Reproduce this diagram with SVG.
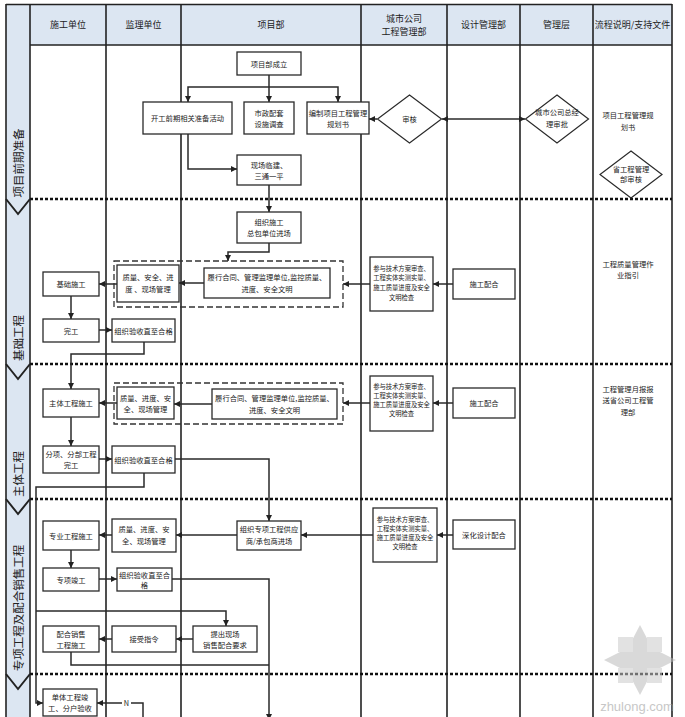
<svg xmlns="http://www.w3.org/2000/svg" width="685" height="717" viewBox="0 0 685 717">
<defs>
<marker id="ah" viewBox="0 0 6 6" refX="6" refY="3" markerWidth="6" markerHeight="6" markerUnits="userSpaceOnUse" orient="auto">
<path d="M0,0 L6,3 L0,6 z" fill="#222"/>
</marker>
<marker id="ahs" viewBox="0 0 6 6" refX="0" refY="3" markerWidth="6" markerHeight="6" markerUnits="userSpaceOnUse" orient="auto">
<path d="M6,0 L0,3 L6,6 z" fill="#222"/>
</marker>
</defs>
<style>
.t{font-family:"Noto Sans CJK SC","Noto Sans",sans-serif;font-size:7.3px;fill:#222;text-anchor:middle;dominant-baseline:central}
.s{font-size:6.3px}
.h{font-size:9px}
.lb{font-size:11.5px}
.box{fill:#fff;stroke:#2a2a2a;stroke-width:1.3}
.dia{fill:#fff;stroke:#2a2a2a;stroke-width:1.2}
.grp{fill:none;stroke:#333;stroke-width:1.3;stroke-dasharray:6 3}
.col{stroke:#222;stroke-width:1.6;fill:none}
.sep{stroke:#111;stroke-width:2.5;stroke-dasharray:3 2;fill:none}
.chev{stroke:#222;stroke-width:2;fill:none}
.c{fill:none;stroke:#2a2a2a;stroke-width:1.5}
.a{marker-end:url(#ah)}
</style>
<rect x="0" y="0" width="685" height="717" fill="#fff"/>
<g id="lanes">
<rect x="6" y="4.5" width="24" height="713" fill="#dce6f2"/>
<rect x="30" y="4.5" width="642" height="40.5" fill="#dce6f2"/>
<line class="col" x1="6" y1="4.5" x2="672" y2="4.5"/>
<line class="col" x1="30" y1="45" x2="672" y2="45"/>
<line class="col" x1="6" y1="4" x2="6" y2="717"/>
<line class="col" x1="30" y1="4" x2="30" y2="717" stroke-width="2"/>
<line class="col" x1="106" y1="4" x2="106" y2="717"/>
<line class="col" x1="181" y1="4" x2="181" y2="717"/>
<line class="col" x1="361" y1="4" x2="361" y2="717"/>
<line class="col" x1="447" y1="4" x2="447" y2="717"/>
<line class="col" x1="520" y1="4" x2="520" y2="717"/>
<line class="col" x1="593" y1="4" x2="593" y2="717"/>
<line class="col" x1="672" y1="4" x2="672" y2="717" stroke-width="2.5" stroke="#444"/>
<text class="t h" x="68" y="24">施工单位</text>
<text class="t h" x="143.5" y="24">监理单位</text>
<text class="t h" x="271" y="24">项目部</text>
<text class="t h" x="404" y="18">城市公司</text>
<text class="t h" x="404" y="31">工程管理部</text>
<text class="t h" x="483.5" y="24">设计管理部</text>
<text class="t h" x="556.5" y="24">管理层</text>
<text class="t h" x="632.5" y="24">流程说明/支持文件</text>
</g>
<g id="phases">
<line class="sep" x1="30" y1="199" x2="672" y2="199"/>
<line class="sep" x1="30" y1="364" x2="672" y2="364"/>
<line class="sep" x1="30" y1="499" x2="672" y2="499"/>
<line class="sep" x1="30" y1="674" x2="672" y2="674"/>
<polyline class="chev" points="6,199 18,214 30,199"/>
<polyline class="chev" points="6,364 18,379 30,364"/>
<polyline class="chev" points="6,499 18,514 30,499"/>
<polyline class="chev" points="6,674 18,689 30,674"/>
<text class="t lb" transform="translate(18,163) rotate(-90)">项目前期准备</text>
<text class="t lb" transform="translate(18,338) rotate(-90)">基础工程</text>
<text class="t lb" transform="translate(18,474) rotate(-90)">主体工程</text>
<text class="t lb" transform="translate(18,608) rotate(-90)">专项工程及配合销售工程</text>
</g>
<g id="connectors">
<path class="c a" d="M269,75 V102"/>
<path class="c a" d="M269,87 H188 V102"/>
<path class="c a" d="M269,87 H338 V102"/>
<path class="c a" d="M188,134 V169 H237"/>
<path class="c a" d="M377,119 H369"/>
<path class="c a" d="M442,119 H525" marker-start="url(#ahs)"/>
<path class="c a" d="M269,185 V212"/>
<path class="c a" d="M269,243 V252 H228 V261"/>
<path class="c a" d="M204,283 H179"/>
<path class="c a" d="M117,284 H99"/>
<path class="c a" d="M71,296 V319"/>
<path class="c a" d="M99,330 H112"/>
<path class="c a" d="M144,342 V354 H71 V389"/>
<path class="c a" d="M453,284 H433"/>
<path class="c a" d="M370,284 H343"/>
<path class="c a" d="M212,404 H174"/>
<path class="c a" d="M117,403 H99"/>
<path class="c a" d="M71,417 V446"/>
<path class="c a" d="M99,459 H112"/>
<path class="c a" d="M175,459 H269 V521"/>
<path class="c a" d="M144,473 V487 H36 V703 H43"/>
<path class="c a" d="M36,611 H226 V626"/>
<path class="c a" d="M453,403 H433"/>
<path class="c a" d="M370,403 H343"/>
<path class="c a" d="M237,535 H176"/>
<path class="c a" d="M112,535 H99"/>
<path class="c a" d="M71,550 V568"/>
<path class="c a" d="M99,579 H117"/>
<path class="c a" d="M172,579 H269 V720"/>
<path class="c" d="M71,652 V665 H269"/>
<path class="c a" d="M453,535 H437"/>
<path class="c a" d="M373,535 H301"/>
<path class="c a" d="M193,639 H176"/>
<path class="c a" d="M112,639 H99"/>
<path class="c a" d="M143,720 V703 H97"/>
<rect x="122" y="698" width="9" height="10" fill="#fff"/>
<text class="t" x="126.5" y="703">N</text>
</g>
<g id="n-xmbcl"><rect class="box" x="237" y="52" width="64" height="23"/><text class="t" x="269" y="63.5">项目部成立</text></g>
<g id="n-kgqq"><rect class="box" x="143" y="102" width="89" height="32"/><text class="t" x="187.5" y="118">开工前期相关准备活动</text></g>
<g id="n-szpt"><rect class="box" x="244" y="102" width="50" height="32"/><text class="t" x="269" y="112.5">市政配套</text><text class="t" x="269" y="124">设施调查</text></g>
<g id="n-bzgh"><rect class="box" x="307" y="102" width="62" height="32"/><text class="t" x="338" y="112.5">编制项目工程管理</text><text class="t" x="338" y="124">规划书</text></g>
<g id="n-xclj"><rect class="box" x="237" y="155" width="64" height="30"/><text class="t" x="269" y="164.5">现场临建、</text><text class="t" x="269" y="176">三通一平</text></g>
<g id="d-sh"><polygon class="dia" points="409.5,95 441.5,119 409.5,143 377.5,119"/><text class="t" x="409.5" y="119">审核</text></g>
<g id="d-cs"><polygon class="dia" points="557,95 588.5,119 557,143 525.5,119"/><text class="t" x="557" y="112">城市公司总经</text><text class="t" x="557" y="123.5">理审批</text></g>
<g id="t-gh"><text class="t" x="628" y="115">项目工程管理规</text><text class="t" x="628" y="126.5">划书</text></g>
<g id="d-sgc"><polygon class="dia" points="631,151 662,174.5 631,198 600,174.5"/><text class="t" x="631" y="168.5">省工程管理</text><text class="t" x="631" y="178.5">部审核</text></g>
<g id="n-zzsg"><rect class="box" x="237" y="212" width="64" height="31"/><text class="t" x="269" y="221.5">组织施工</text><text class="t" x="269" y="233">总包单位进场</text></g>
<g id="g-dash1"><rect class="grp" x="114" y="261" width="229" height="46"/></g>
<g id="n-zl1"><rect class="box" x="117" y="265" width="62" height="37"/><text class="t" x="148" y="277">质量、安全、进</text><text class="t" x="148" y="289">度 、现场管理</text></g>
<g id="n-lx1"><rect class="box" x="204" y="268" width="126" height="30"/><text class="t" x="267" y="276.5">履行合同、管理监理单位,监控质量、</text><text class="t" x="267" y="288.5">进度、安全文明</text></g>
<g id="n-jcsg"><rect class="box" x="43" y="272" width="56" height="24"/><text class="t" x="71" y="284">基础施工</text></g>
<g id="n-wg"><rect class="box" x="43" y="319" width="56" height="23"/><text class="t" x="71" y="330.5">完工</text></g>
<g id="n-ys1"><rect class="box" x="112" y="319" width="63" height="23"/><text class="t" x="143.5" y="330.5">组织验收直至合格</text></g>
<g id="n-cy1"><rect class="box" x="370" y="257" width="63" height="54"/><text class="t s" x="401.5" y="268">参与技术方案审查、</text><text class="t s" x="401.5" y="277.5">工程实体实测实量、</text><text class="t s" x="401.5" y="287">施工质量进度及安全</text><text class="t s" x="401.5" y="297">文明检查</text></g>
<g id="n-sgph1"><rect class="box" x="453" y="269" width="62" height="30"/><text class="t" x="484" y="284">施工配合</text></g>
<g id="t-zy"><text class="t" x="628" y="263.5">工程质量管理作</text><text class="t" x="628" y="275">业指引</text></g>
<g id="g-dash2"><rect class="grp" x="114" y="383" width="229" height="41"/></g>
<g id="n-zl2"><rect class="box" x="117" y="387" width="57" height="32"/><text class="t" x="145.5" y="397.5">质量、进度、安</text><text class="t" x="145.5" y="408.5">全、现场管理</text></g>
<g id="n-lx2"><rect class="box" x="212" y="389" width="125" height="30"/><text class="t" x="274.5" y="397.5">履行合同、管理监理单位,监控质量、</text><text class="t" x="274.5" y="409.5">进度、安全文明</text></g>
<g id="n-ztsg"><rect class="box" x="43" y="389" width="56" height="28"/><text class="t" x="71" y="403">主体工程施工</text></g>
<g id="n-fx"><rect class="box" x="43" y="446" width="56" height="27"/><text class="t" x="71" y="453.5">分项、分部工程</text><text class="t" x="71" y="464.5">完工</text></g>
<g id="n-ys2"><rect class="box" x="112" y="446" width="63" height="27"/><text class="t" x="143.5" y="459.5">组织验收直至合格</text></g>
<g id="n-cy2"><rect class="box" x="370" y="376" width="63" height="55"/><text class="t s" x="401.5" y="386.5">参与技术方案审查、</text><text class="t s" x="401.5" y="395.5">工程实体实测实量、</text><text class="t s" x="401.5" y="404.5">施工质量进度及安全</text><text class="t s" x="401.5" y="413.5">文明检查</text></g>
<g id="n-sgph2"><rect class="box" x="453" y="388" width="62" height="30"/><text class="t" x="484" y="403">施工配合</text></g>
<g id="t-yb"><text class="t" x="628" y="388.5">工程管理月报报</text><text class="t" x="628" y="400">送省公司工程管</text><text class="t" x="628" y="411.5">理部</text></g>
<g id="n-zzzx"><rect class="box" x="237" y="521" width="64" height="29"/><text class="t" x="269" y="528.5">组织专项工程供应</text><text class="t" x="269" y="540.5">商/承包商进场</text></g>
<g id="n-zl3"><rect class="box" x="112" y="519" width="64" height="33"/><text class="t" x="144" y="528.5">质量、进度、安</text><text class="t" x="144" y="540.5">全、现场管理</text></g>
<g id="n-zygc"><rect class="box" x="43" y="521" width="56" height="29"/><text class="t" x="71" y="535.5">专业工程施工</text></g>
<g id="n-zxjg"><rect class="box" x="43" y="568" width="56" height="23"/><text class="t" x="71" y="579.5">专项竣工</text></g>
<g id="n-ys3"><rect class="box" x="117" y="568" width="55" height="23"/><text class="t" x="144.5" y="574.5">组织验收直至合</text><text class="t" x="144.5" y="584.5">格</text></g>
<g id="n-cy3"><rect class="box" x="373" y="508" width="64" height="54"/><text class="t s" x="405" y="519.5">参与技术方案审查、</text><text class="t s" x="405" y="528.5">工程实体实测实量、</text><text class="t s" x="405" y="537.5">施工质量进度及安全</text><text class="t s" x="405" y="546.5">文明检查</text></g>
<g id="n-shsj"><rect class="box" x="453" y="520" width="62" height="29"/><text class="t" x="484" y="534.5">深化设计配合</text></g>
<g id="n-tc"><rect class="box" x="193" y="626" width="64" height="26"/><text class="t" x="225" y="633.5">提出现场</text><text class="t" x="225" y="644.5">销售配合要求</text></g>
<g id="n-jszl"><rect class="box" x="112" y="626" width="64" height="26"/><text class="t" x="144" y="639">接受指令</text></g>
<g id="n-phxs"><rect class="box" x="43" y="626" width="56" height="26"/><text class="t" x="71" y="633.5">配合销售</text><text class="t" x="71" y="644.5">工程施工</text></g>
<g id="n-dt"><rect class="box" x="43" y="689" width="54" height="27"/><text class="t" x="70" y="696.5">单体工程竣</text><text class="t" x="70" y="708">工、分户验收</text></g>
<g id="watermark" opacity="0.55">
<polygon points="640,625 652,648 676,660 652,672 640,695 628,672 604,660 628,648" fill="#bbb"/>
<rect x="618" y="637" width="15" height="15" fill="#ccc"/>
<rect x="647" y="637" width="15" height="15" fill="#ccc"/>
<rect x="618" y="668" width="15" height="15" fill="#ccc"/>
<rect x="647" y="668" width="15" height="15" fill="#ccc"/>
<text x="637" y="711" font-family="Liberation Sans, Arial, sans-serif" font-size="13" fill="#999" text-anchor="middle">zhulong.com</text>
</g>
</svg>
